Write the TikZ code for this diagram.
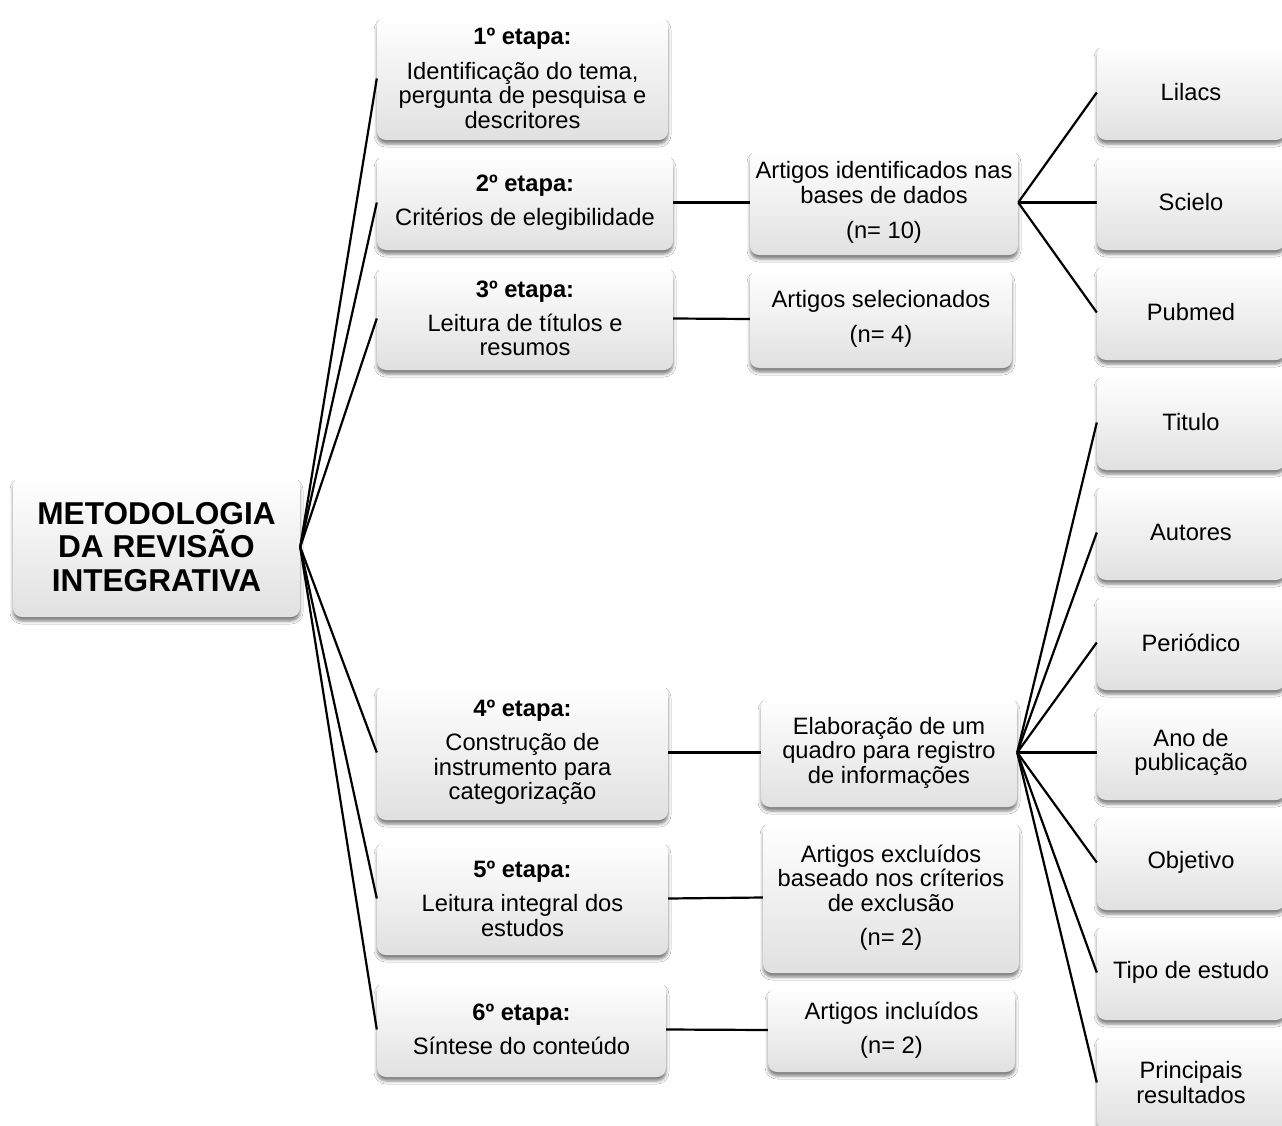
\documentclass[tikz,border=0pt]{standalone}
\usepackage{fontspec}
\setmainfont{Liberation Sans}
\usetikzlibrary{shadows.blur}
\tikzset{
  box/.style={rounded corners=9pt, top color=white, bottom color=black!12,
    blur shadow={shadow xshift=0pt, shadow yshift=-4pt, shadow blur radius=3pt, shadow opacity=50},
    font=\fontsize{23.7}{24.5}\selectfont, align=center, inner sep=0pt},
  rootbox/.style={box, font=\fontsize{31.6}{33.5}\selectfont\bfseries},
  rbox/.style={box, minimum width=188pt, minimum height=95pt},
  link/.style={line width=2.2pt, black}
}
\begin{document}
\begin{tikzpicture}[x=1pt,y=-1pt]
\path[use as bounding box, clip] (0,0) rectangle (1282,1126);
\fill[white] (0,0) rectangle (1282,1126);
% root
\node[rootbox, minimum width=287pt, minimum height=140pt] (root) at (156.5,547) {METODOLOGIA\\DA REVISÃO\\INTEGRATIVA};
% stages
\node[box, minimum width=291pt, minimum height=123pt] (s1) at (522.5,78.5) {\textbf{1º etapa:}\\[10pt]Identificação do tema,\\pergunta de pesquisa e\\descritores};
\node[box, minimum width=296pt, minimum height=95pt] (s2) at (525,202.5) {\textbf{2º etapa:}\\[9pt]Critérios de elegibilidade};
\node[box, minimum width=296pt, minimum height=103pt] (s3) at (525,318.5) {\textbf{3º etapa:}\\[9pt]Leitura de títulos e\\resumos};
\node[box, minimum width=291pt, minimum height=135pt] (s4) at (522.5,752.5) {\textbf{4º etapa:}\\[10pt]Construção de\\instrumento para\\categorização};
\node[box, minimum width=291pt, minimum height=113pt] (s5) at (522.5,898.5) {\textbf{5º etapa:}\\[10pt]Leitura integral dos\\estudos};
\node[box, minimum width=289pt, minimum height=95pt] (s6) at (521.5,1029.5) {\textbf{6º etapa:}\\[10pt]Síntese do conteúdo};
% middle column
\node[box, minimum width=268pt, minimum height=105pt] (ma) at (884,202.5) {Artigos identificados nas\\bases de dados\\[11pt](n= 10)};
\node[box, minimum width=262pt, minimum height=98pt] (mb) at (881,319) {Artigos selecionados\\[10pt](n= 4)};
\node[box, minimum width=256pt, minimum height=109pt] (mc) at (889,752.5) {Elaboração de um\\quadro para registro\\de informações};
\node[box, minimum width=256pt, minimum height=151pt] (md) at (891,897.5) {Artigos excluídos\\baseado nos críterios\\de exclusão\\[10pt](n= 2)};
\node[box, minimum width=247pt, minimum height=84pt] (me) at (891.5,1030) {Artigos incluídos\\[10pt](n= 2)};
% right column
\node[rbox] (r1) at (1191,92.5) {Lilacs};
\node[rbox] (r2) at (1191,202.5) {Scielo};
\node[rbox] (r3) at (1191,312.5) {Pubmed};
\node[rbox] (r4) at (1191,422.5) {Titulo};
\node[rbox] (r5) at (1191,532.5) {Autores};
\node[rbox] (r6) at (1191,642.5) {Periódico};
\node[rbox] (r7) at (1191,752.5) {Ano de\\publicação};
\node[rbox] (r8) at (1191,862.5) {Objetivo};
\node[rbox] (r9) at (1191,972.5) {Tipo de estudo};
\node[rbox] (r10) at (1191,1082.5) {Principais\\resultados};
% connectors
\foreach \s in {s1,s2,s3,s4,s5,s6} \draw[link] (root.east) -- (\s.west);
\draw[link] (s2.east) -- (ma.west);
\draw[link] (s3.east) -- (mb.west);
\draw[link] (s4.east) -- (mc.west);
\draw[link] (s5.east) -- (md.west);
\draw[link] (s6.east) -- (me.west);
\foreach \r in {r1,r2,r3} \draw[link] (ma.east) -- (\r.west);
\foreach \r in {r4,r5,r6,r7,r8,r9,r10} \draw[link] (mc.east) -- (\r.west);
\end{tikzpicture}
\end{document}
